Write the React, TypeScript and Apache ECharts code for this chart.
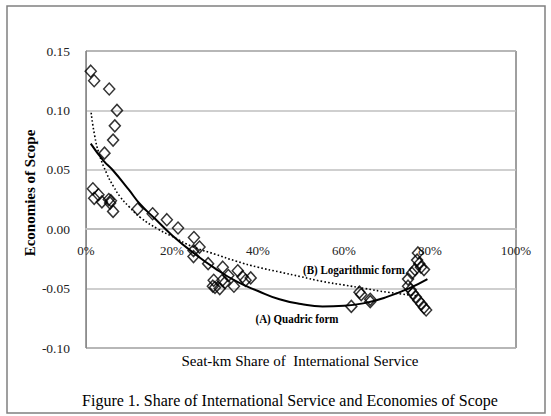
import React, { useEffect, useRef } from "react";
import * as echarts from "echarts";

// Scatter observations: seat-km share of international service (%) and economies of scope
const shareX: number[] = [
  1.1, 1.9, 5.4, 7.2, 6.7, 6.3, 4.3, 1.6, 1.9, 2.9, 3.7, 5.3, 5.8, 5.6, 6.3,
  12.0, 15.5, 18.8, 21.4, 25.1, 26.4, 25.0, 25.0, 28.4, 31.8, 29.7, 29.5, 30.0,
  31.1, 31.7, 32.3, 33.1, 34.4, 35.3, 36.4, 37.1, 38.3, 61.7, 63.6, 64.0, 66.1,
  66.1, 77.2, 77.0, 77.5, 77.9, 76.5, 75.8, 74.9, 78.6, 74.9, 75.5, 76.0, 76.7,
  77.3, 78.0, 78.6, 79.1,
];
const scopeY: number[] = [
  0.133, 0.125, 0.118, 0.1, 0.087, 0.075, 0.064, 0.034, 0.026, 0.029, 0.023,
  0.025, 0.024, 0.022, 0.015, 0.017, 0.013, 0.008, 0.001, -0.007, -0.015, -0.018,
  -0.023, -0.029, -0.032, -0.043, -0.048, -0.049, -0.05, -0.043, -0.045, -0.039,
  -0.048, -0.035, -0.04, -0.043, -0.041, -0.065, -0.053, -0.055, -0.059, -0.061,
  -0.02, -0.026, -0.029, -0.032, -0.034, -0.037, -0.042, -0.034, -0.048, -0.051,
  -0.054, -0.057, -0.06, -0.063, -0.066, -0.068,
];

// (A) Quadric form trend line
const quadX: number[] = [1.1, 4, 6.4, 10, 12.6, 16, 20, 25, 30, 35, 40, 45, 50, 55, 60, 65, 70, 75, 79.4];
const quadY: number[] = [0.072, 0.058, 0.049, 0.033, 0.021, 0.009, -0.005, -0.02, -0.033, -0.044, -0.052, -0.059, -0.063, -0.065, -0.0645, -0.062, -0.057, -0.05, -0.042];

// (B) Logarithmic form trend line
const logX: number[] = [1.2, 2, 3, 4.8, 6.4, 8, 10, 12.6, 16.8, 20, 25, 30, 35, 40, 45, 50, 55, 60, 65, 70, 76.9];
const logY: number[] = [0.098, 0.079, 0.064, 0.047, 0.036, 0.027, 0.019, 0.01, 0.0, -0.006, -0.015, -0.021, -0.027, -0.032, -0.036, -0.04, -0.044, -0.047, -0.05, -0.053, -0.056];

const xTicks = { min: 0, max: 100, interval: 20 };
const yTicks = { min: -0.1, max: 0.15, interval: 0.05 };

const SERIF = "'Liberation Serif', 'DejaVu Serif', serif";

const GRID_TOP = 51;
const GRID_BOTTOM = 68;
const CHART_H = 416;

export default function App() {
  const ref = useRef<HTMLDivElement>(null);
  useEffect(() => {
    document.body.style.margin = "0";
    if (!ref.current) return;
    const chart = echarts.init(ref.current, undefined, { renderer: "svg" });
    const pts = shareX.map((x, i) => [x, scopeY[i]]);
    const qd = quadX.map((x, i) => [x, quadY[i]]);
    const lg = logX.map((x, i) => [x, logY[i]]);
    // distance from the bottom of the plot to the zero line
    const plotH = CHART_H - GRID_TOP - GRID_BOTTOM;
    const zeroOffset = (plotH * (0 - yTicks.min)) / (yTicks.max - yTicks.min);
    chart.setOption({
      animation: false,
      backgroundColor: "#ffffff",
      grid: {
        left: 86,
        right: 35,
        top: GRID_TOP,
        bottom: GRID_BOTTOM,
        show: true,
        borderColor: "#404040",
        borderWidth: 1,
        backgroundColor: "transparent",
      },
      xAxis: {
        type: "value",
        min: xTicks.min,
        max: xTicks.max,
        interval: xTicks.interval,
        position: "bottom",
        offset: -zeroOffset,
        axisLine: { show: true, onZero: false, lineStyle: { color: "#bfbfbf", width: 2 } },
        axisTick: { show: false },
        splitLine: { show: false },
        axisLabel: {
          formatter: "{value}%",
          fontFamily: SERIF,
          fontSize: 13,
          color: "#222",
          margin: 15,
        },
      },
      yAxis: {
        type: "value",
        min: yTicks.min,
        max: yTicks.max,
        interval: yTicks.interval,
        axisLine: { show: true, onZero: false, lineStyle: { color: "#8c8c8c", width: 1 } },
        axisTick: { show: false },
        splitLine: { show: true, lineStyle: { color: "#bfbfbf", width: 1.5 } },
        axisLabel: {
          formatter: (v: number) => v.toFixed(2),
          fontFamily: SERIF,
          fontSize: 13.5,
          color: "#222",
          margin: 16,
        },
      },
      series: [
        {
          type: "scatter",
          data: pts,
          symbol: "diamond",
          symbolSize: [11, 12],
          itemStyle: { color: "transparent", borderColor: "#000", borderWidth: 1.5 },
          z: 2,
        },
        {
          type: "line",
          data: qd,
          smooth: true,
          showSymbol: false,
          symbol: "none",
          lineStyle: { color: "#000", width: 2, type: "solid" },
          z: 3,
        },
        {
          type: "line",
          data: lg,
          smooth: true,
          showSymbol: false,
          symbol: "none",
          lineStyle: { color: "#000", width: 1.6, type: [1.6, 2.2] },
          z: 3,
        },
      ],
      graphic: [
        {
          type: "rect",
          shape: { x: 7, y: 6, width: 538, height: 407 },
          style: { fill: "none", stroke: "#808080", lineWidth: 1.5 },
          silent: true,
        },
        {
          type: "text",
          x: 30,
          y: 193,
          rotation: Math.PI / 2,
          style: {
            text: "Economies of Scope",
            font: `bold 15px ${SERIF}`,
            fill: "#000",
            textAlign: "center",
            textVerticalAlign: "middle",
          },
        },
        {
          type: "text",
          x: 300,
          y: 361,
          style: {
            text: "Seat-km Share of  International Service",
            font: `15px ${SERIF}`,
            fill: "#000",
            textAlign: "center",
            textVerticalAlign: "middle",
          },
        },
        {
          type: "text",
          x: 290,
          y: 400,
          style: {
            text: "Figure 1. Share of International Service and Economies of Scope",
            font: `16px ${SERIF}`,
            fill: "#000",
            textAlign: "center",
            textVerticalAlign: "middle",
          },
        },
        {
          type: "text",
          x: 354,
          y: 270,
          scaleX: 0.88,
          style: {
            text: "(B) Logarithmic form",
            font: `bold 12.5px ${SERIF}`,
            fill: "#000",
            textAlign: "center",
            textVerticalAlign: "middle",
          },
        },
        {
          type: "text",
          x: 297,
          y: 319,
          scaleX: 0.88,
          style: {
            text: "(A) Quadric form",
            font: `bold 12.5px ${SERIF}`,
            fill: "#000",
            textAlign: "center",
            textVerticalAlign: "middle",
          },
        },
      ],
    });
    return () => chart.dispose();
  }, []);
  return <div ref={ref} style={{ width: 551, height: 416 }} />;
}
